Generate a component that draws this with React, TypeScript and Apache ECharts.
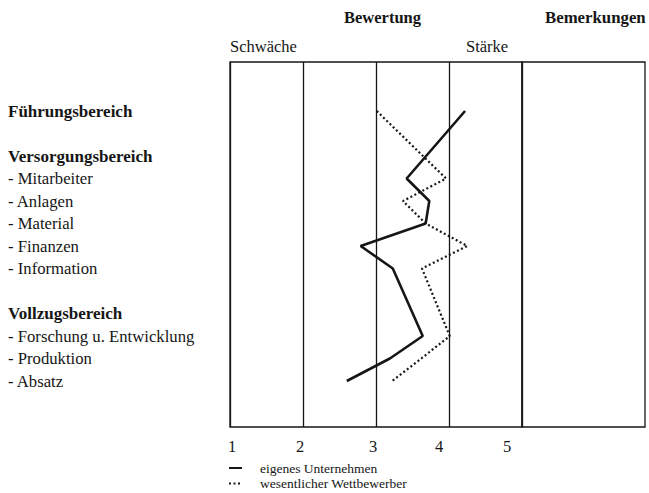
import React, { useEffect, useRef } from 'react';
import * as echarts from 'echarts';

const categories = [
  'Führungsbereich',
  ' ',
  'Versorgungsbereich',
  '- Mitarbeiter',
  '- Anlagen',
  '- Material',
  '- Finanzen',
  '- Information',
  '  ',
  'Vollzugsbereich',
  '- Forschung u. Entwicklung',
  '- Produktion',
  '- Absatz',
];
const headerCategories = ['Führungsbereich', 'Versorgungsbereich', 'Vollzugsbereich'];
const ownCompany = [4.22, null, null, 3.42, 3.73, 3.68, 2.79, 3.23, null, null, 3.64, 3.19, 2.6];
const competitor = [3.01, null, null, 3.96, 3.37, 3.68, 4.25, 3.63, null, null, 4.01, 3.62, 3.22];
const tickLabels = ['1', '2', '3', '4', '5'];
const seriesNames = ['eigenes Unternehmen', 'wesentlicher Wettbewerber'];
const headerTexts = { rating: 'Bewertung', remarks: 'Bemerkungen', weak: 'Schwäche', strong: 'Stärke' };

// style: horizontal nudges of tick labels (px)
const tickShift = [2, -3, -3, -10, -15];

const FONT = '"Liberation Serif", "Times New Roman", serif';
const INK = '#161616';

export default function App() {
  const ref = useRef<HTMLDivElement>(null);
  useEffect(() => {
    if (!ref.current) return;
    const chart = echarts.init(ref.current, undefined, { renderer: 'svg' });
    const rich: Record<string, any> = {};
    tickShift.forEach((s, i) => {
      rich['s' + i] = {
        fontFamily: FONT,
        fontSize: 16.5,
        color: INK,
        padding: s >= 0 ? [0, 0, 0, 2 * s] : [0, -2 * s, 0, 0],
      };
    });
    const option: any = {
      animation: false,
      textStyle: { fontFamily: FONT, color: INK },
      grid: [
        { left: 230, top: 62, width: 292, height: 365, show: true, borderColor: INK, borderWidth: 1.3, backgroundColor: 'transparent' },
        { left: 230, top: 99.75, width: 292, height: 292.5 },
        { left: 522, top: 62, width: 123, height: 365, show: true, borderColor: INK, borderWidth: 1.3, backgroundColor: 'transparent' },
      ],
      xAxis: [
        {
          gridIndex: 0, type: 'value', min: 1, max: 5, interval: 1,
          axisLine: { show: false }, axisTick: { show: false },
          splitLine: { show: true, lineStyle: { color: INK, width: 1.3 } },
          axisLabel: {
            margin: 11,
            formatter: (v: number) => {
              const i = Math.round(v) - 1;
              return `{s${i}|${tickLabels[i]}}`;
            },
            rich,
          },
        },
        { gridIndex: 1, type: 'value', min: 1, max: 5, show: false },
        { gridIndex: 2, type: 'value', min: 0, max: 1, show: false },
      ],
      yAxis: [
        { gridIndex: 0, type: 'value', min: 0, max: 1, show: false },
        {
          gridIndex: 1, type: 'category', data: categories, inverse: true, boundaryGap: true,
          axisLine: { show: false }, axisTick: { show: false }, splitLine: { show: false },
          axisLabel: {
            align: 'left', margin: 222, interval: 0,
            formatter: (v: string) => (headerCategories.includes(v) ? `{b|${v}}` : `{n|${v}}`),
            rich: {
              b: { fontFamily: FONT, fontSize: 17, fontWeight: 'bold', color: INK },
              n: { fontFamily: FONT, fontSize: 16.7, color: INK },
            },
          },
        },
        { gridIndex: 2, type: 'value', min: 0, max: 1, show: false },
      ],
      legend: {
        orient: 'vertical', left: 228, top: 461, padding: 0, height: 40,
        itemWidth: 13, itemHeight: 14, itemGap: 1.5,
        data: seriesNames,
        itemStyle: { opacity: 0 },
        textStyle: { fontFamily: FONT, fontSize: 13.5, color: INK, padding: [0, 0, 0, 13] },
      },
      series: [
        {
          name: seriesNames[0], type: 'line', xAxisIndex: 1, yAxisIndex: 1, data: ownCompany,
          connectNulls: true, symbol: 'none', lineStyle: { color: INK, width: 2.6, type: 'solid' },
          itemStyle: { color: 'rgba(0,0,0,0)' },
        },
        {
          name: seriesNames[1], type: 'line', xAxisIndex: 1, yAxisIndex: 1, data: competitor,
          connectNulls: true, symbol: 'none', lineStyle: { color: INK, width: 2.2, type: [2, 2.5] },
          itemStyle: { color: 'rgba(0,0,0,0)' },
        },
      ],
      graphic: [
        { type: 'text', left: 344, top: 9, style: { text: headerTexts.rating, font: `bold 16.5px ${FONT}`, fill: INK } },
        { type: 'text', left: 545, top: 9, style: { text: headerTexts.remarks, font: `bold 16.8px ${FONT}`, fill: INK } },
        { type: 'text', left: 230, top: 38, style: { text: headerTexts.weak, font: `16.5px ${FONT}`, fill: INK } },
        { type: 'text', left: 466, top: 38, style: { text: headerTexts.strong, font: `16.5px ${FONT}`, fill: INK } },
      ],
    };
    chart.setOption(option);
    return () => chart.dispose();
  }, []);
  return <div ref={ref} style={{ position: 'fixed', left: 0, top: 0, width: 649, height: 493, background: '#fff' }} />;
}
